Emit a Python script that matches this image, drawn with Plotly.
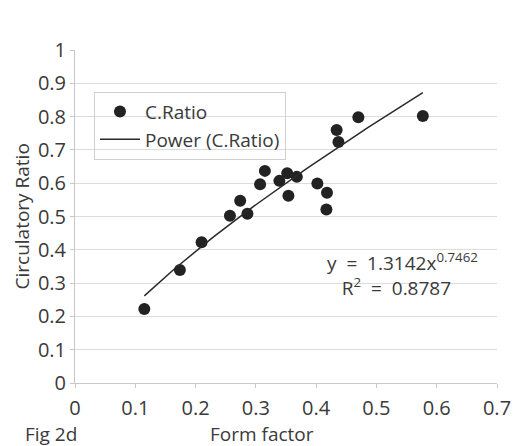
import plotly.graph_objects as go

form_factor = [0.115, 0.174, 0.210, 0.257, 0.274, 0.286, 0.307, 0.315, 0.339, 0.352,
               0.354, 0.368, 0.402, 0.418, 0.417, 0.434, 0.437, 0.470, 0.577]
c_ratio = [0.222, 0.339, 0.423, 0.502, 0.547, 0.508, 0.597, 0.637, 0.607, 0.630,
           0.562, 0.619, 0.599, 0.571, 0.521, 0.760, 0.724, 0.798, 0.802]

# Power trendline coefficients as printed on the chart
coef_a = 1.3142
coef_b = 0.7462
r_squared = 0.8787

x_ticks = [0, 0.1, 0.2, 0.3, 0.4, 0.5, 0.6, 0.7]
y_ticks = [0, 0.1, 0.2, 0.3, 0.4, 0.5, 0.6, 0.7, 0.8, 0.9, 1]
x_tick_text = ["0", "0.1", "0.2", "0.3", "0.4", "0.5", "0.6", "0.7"]
y_tick_text = ["0", "0.1", "0.2", "0.3", "0.4", "0.5", "0.6", "0.7", "0.8", "0.9", "1"]

n = 60
x_lo, x_hi = min(form_factor), max(form_factor)
trend_x = [x_lo + (x_hi - x_lo) * i / (n - 1) for i in range(n)]
trend_y = [coef_a * xv ** coef_b for xv in trend_x]

FONT = "Open Sans"
TXT = "#3a3a3a"
GRID = "#dcdcdc"
NB = "\u00a0"

eq_text = (f"y{NB}{NB}={NB}{NB}{coef_a}x<sup>{coef_b}</sup><br>"
           f"{NB*3}R<sup>2</sup>{NB}{NB}={NB}{NB}{r_squared}")

fig = go.Figure()
fig.add_trace(go.Scatter(
    x=form_factor, y=c_ratio, mode="markers", name="C.Ratio",
    marker=dict(size=12, color="#222222"),
))
fig.add_trace(go.Scatter(
    x=trend_x, y=trend_y, mode="lines", name="Power (C.Ratio)",
    line=dict(color="#2a2a2a", width=1.5),
))

fig.update_layout(
    width=532, height=446,
    margin=dict(l=75, r=35, t=50, b=63),
    paper_bgcolor="white", plot_bgcolor="white",
    font=dict(family=FONT, size=19, color=TXT),
    showlegend=True,
    legend=dict(
        x=0.045, y=0.875, xanchor="left", yanchor="top",
        bordercolor="#d0d0d0", borderwidth=1, bgcolor="rgba(255,255,255,0)",
        font=dict(family=FONT, size=19, color=TXT),
        tracegroupgap=0, itemwidth=40,
    ),
    xaxis=dict(
        range=[0, 0.7], tickvals=x_ticks, ticktext=x_tick_text,
        showgrid=False, zeroline=False,
        showline=True, linecolor="#c8c8c8", linewidth=1,
        ticks="outside", ticklen=4, tickcolor="#c8c8c8",
        ticklabelstandoff=3, tickfont=dict(size=20),
    ),
    yaxis=dict(
        range=[0, 1], tickvals=y_ticks, ticktext=y_tick_text,
        showgrid=True, gridcolor=GRID, gridwidth=1, zeroline=False,
        showline=True, linecolor="#c8c8c8", linewidth=1,
        ticks="outside", ticklen=4, tickcolor="#c8c8c8",
        tickfont=dict(size=20),
    ),
    annotations=[
        dict(text=eq_text, x=0.414, y=0.325,
             xref="x", yref="y", xanchor="left", yanchor="middle", align="left",
             showarrow=False, font=dict(family=FONT, size=19, color=TXT)),
        dict(text="Form factor", x=0.443, y=-0.1525, xref="paper", yref="paper",
             xanchor="center", yanchor="middle", showarrow=False),
        dict(text="Fig 2d", x=-0.123, y=-0.1525, xref="paper", yref="paper",
             xanchor="left", yanchor="middle", showarrow=False),
        dict(text="Circulatory Ratio", x=-0.1256, y=0.5, xref="paper", yref="paper",
             xanchor="center", yanchor="middle", textangle=-90, showarrow=False),
    ],
)

fig.write_html("out.html")
